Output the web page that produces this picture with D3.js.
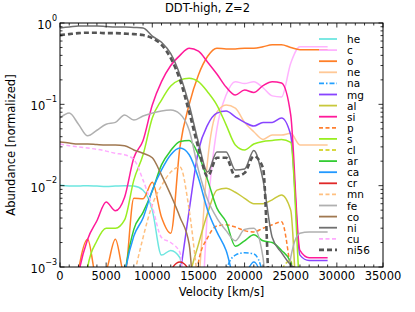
<!DOCTYPE html>
<html>
<head>
<meta charset="utf-8">
<script src="https://cdn.jsdelivr.net/npm/d3@7"></script>
<style>
body { margin: 0; background: #fff; }
text { font-family: "DejaVu Sans", sans-serif; fill: #000; }
</style>
</head>
<body>
<div id="chart"></div>
<script>
// Values; lo = below the bottom of the axis
const lo = 1e-4;
const velocity = [0, 1000, 2000, 3000, 4000, 5000, 6000, 7000, 8000, 9000,
    10000, 11000, 12000, 13000, 14000, 15000, 16000, 17000, 18000, 19000,
    20000, 21000, 22000, 23000, 24000, 25000, 26000, 27000, 28000, 29000];

const he = [0.0101, 0.0099, 0.0099, 0.01, 0.0099, 0.0098, 0.0099, 0.01, 0.0099, 0.0088,
    0.005, 0.0014, 0.0016, 0.0013, lo, lo, lo, lo, lo, lo,
    lo, lo, lo, lo, lo, lo, lo, lo, lo, lo];
const c = [lo, lo, lo, lo, lo, lo, lo, lo, lo, lo,
    lo, lo, lo, lo, lo, lo, 0.005, 0.05, 0.13, 0.19,
    0.18, 0.19, 0.16, 0.127, 0.123, 0.32, 0.51, 0.51, 0.51, 0.51];
const o = [lo, lo, 0.0009, 0.0022, 0.0007, 0.0009, 0.0022, 0.0008, 0.007, 0.0069,
    0.011, 0.0041, 0.0026, 0.03, 0.1, 0.23, 0.39, 0.49, 0.48, 0.48,
    0.49, 0.49, 0.51, 0.54, 0.54, 0.5, 0.47, 0.47, 0.47, 0.47];
const ne = [lo, lo, lo, lo, lo, lo, lo, lo, lo, lo,
    lo, lo, lo, lo, lo, 0.0006, 0.0207, 0.08, 0.098, 0.09,
    0.06, 0.046, 0.037, 0.042, 0.042, 0.044, 0.0317, 0.0317, 0.0317, 0.0317];
const na = [lo, lo, lo, lo, lo, lo, lo, lo, lo, lo,
    lo, lo, lo, lo, lo, lo, lo, lo, 0.0009, 0.0014,
    0.0015, 0.00145, 0.0008, lo, lo, lo, lo, lo, lo, lo];
const mg = [lo, lo, lo, lo, lo, lo, lo, lo, lo, lo,
    lo, lo, lo, 0.0008, 0.005, 0.027, 0.056, 0.078, 0.083, 0.07,
    0.06, 0.054, 0.06, 0.06, 0.068, 0.042, 0.0014, 0.0012, 0.0012, 0.0012];
const al = [lo, lo, lo, lo, lo, lo, lo, lo, lo, lo,
    lo, lo, lo, lo, 0.0007, 0.0019, 0.0046, 0.0088, 0.0093, 0.0083,
    0.007, 0.006, 0.006, 0.0067, 0.0077, 0.005, lo, lo, lo, lo];
const si = [lo, lo, 0.0008, 0.0022, 0.0037, 0.0063, 0.0049, 0.0072, 0.022, 0.036,
    0.098, 0.19, 0.30, 0.40, 0.49, 0.45, 0.33, 0.236, 0.163, 0.13,
    0.15, 0.14, 0.17, 0.19, 0.183, 0.074, 0.0016, 0.0013, 0.0013, 0.0013];
const p = [lo, lo, lo, lo, lo, lo, lo, lo, lo, lo,
    lo, lo, lo, lo, lo, 0.00115, 0.0023, 0.0032, 0.0033, 0.0031,
    0.0028, 0.0027, 0.003, 0.0033, 0.0036, 0.0009, lo, lo, lo, lo];
const s = [lo, lo, lo, 0.001, 0.0021, 0.003, 0.003, 0.0038, 0.0117, 0.024,
    0.068, 0.113, 0.168, 0.2, 0.21, 0.19, 0.142, 0.098, 0.056, 0.0317,
    0.0275, 0.0325, 0.035, 0.036, 0.037, 0.034, 0.0005, lo, lo, lo];
const cl = [lo, lo, lo, lo, lo, lo, lo, lo, lo, lo,
    lo, lo, lo, lo, lo, lo, lo, lo, lo, lo,
    lo, lo, lo, lo, 0.0009, 0.0012, lo, lo, lo, lo];
const ar = [lo, lo, lo, lo, lo, lo, lo, 0.0008, 0.0029, 0.0047,
    0.0086, 0.018, 0.027, 0.035, 0.036, 0.024, 0.0117, 0.0053, 0.0036, 0.0018,
    0.0021, 0.0025, 0.0021, 0.002, 0.0016, 0.00115, lo, lo, lo, lo];
const ca = [lo, lo, lo, lo, lo, lo, lo, 0.0008, 0.0024, 0.004,
    0.0088, 0.0156, 0.024, 0.029, 0.024, 0.0124, 0.005, 0.0027, 0.0016, 0.0007,
    0.0008, 0.00115, 0.0006, lo, lo, lo, lo, lo, lo, lo];
const cr = [lo, lo, lo, lo, lo, lo, lo, lo, lo, lo,
    lo, lo, 0.0009, 0.00115, 0.0009, lo, lo, lo, lo, lo,
    lo, lo, lo, lo, lo, lo, lo, lo, lo, lo];
const mn = [lo, lo, lo, lo, lo, lo, lo, lo, 0.0007, 0.0023,
    0.0058, 0.01, 0.0147, 0.017, 0.005, 0.0006, lo, lo, lo, lo,
    lo, lo, lo, lo, lo, lo, lo, lo, lo, lo];
const fe = [0.068, 0.078, 0.057, 0.041, 0.048, 0.057, 0.06, 0.074, 0.064, 0.072,
    0.078, 0.083, 0.085, 0.076, 0.048, 0.0156, 0.0067, 0.004, 0.0028, 0.0021,
    0.0029, 0.003, 0.0013, lo, lo, 0.0013, 0.0026, 0.0027, 0.0027, 0.0027];
const co = [0.0344, 0.0334, 0.0326, 0.0326, 0.032, 0.0316, 0.0316, 0.031, 0.0275, 0.025,
    0.022, 0.0135, 0.0077, 0.0041, 0.0019, lo, lo, lo, lo, lo,
    lo, lo, lo, lo, lo, lo, lo, lo, lo, lo];
const ni = [0.87, 0.89, 0.92, 0.92, 0.92, 0.905, 0.89, 0.89, 0.88, 0.87,
    0.69, 0.58, 0.42, 0.23, 0.098, 0.034, 0.0147, 0.026, 0.026, 0.0156,
    0.016, 0.027, 0.0117, 0.0023, 0.0015, 0.00106, 0.0009, lo, lo, lo];
const cu = [0.0326, 0.031, 0.03, 0.029, 0.028, 0.0266, 0.025, 0.024, 0.021, 0.0117,
    0.0055, 0.0023, 0.002, 0.0015, lo, lo, lo, lo, lo, lo,
    lo, lo, lo, lo, lo, lo, lo, lo, lo, lo];
const ni56 = [0.71, 0.73, 0.75, 0.76, 0.76, 0.75, 0.75, 0.74, 0.73, 0.71,
    0.65, 0.54, 0.37, 0.2, 0.08, 0.029, 0.013, 0.022, 0.022, 0.013,
    0.0143, 0.023, 0.0165, lo, lo, lo, lo, lo, lo, lo];

const elements = ['he', 'c', 'o', 'ne', 'na', 'mg', 'al', 'si', 'p', 's',
    'cl', 'ar', 'ca', 'cr', 'mn', 'fe', 'co', 'ni', 'cu', 'ni56'];
const seriesValues = [he, c, o, ne, na, mg, al, si, p, s,
    cl, ar, ca, cr, mn, fe, co, ni, cu, ni56];

const xTickValues = [0, 5000, 10000, 15000, 20000, 25000, 30000, 35000];
const yTickValues = [1, 0.1, 0.01, 0.001];
const yTickExponents = ['0', '\u22121', '\u22122', '\u22123'];

// Line styles per element
const styles = {
    he:   { color: '#6ee6e0' },
    c:    { color: '#ffb3ff' },
    o:    { color: '#ff7f27' },
    ne:   { color: '#ffc896' },
    na:   { color: '#22a0ff', dash: '5,2,1.5,2' },
    mg:   { color: '#8844ff' },
    al:   { color: '#c8c83c' },
    si:   { color: '#ff1a9a' },
    p:    { color: '#ff8030', dash: '4,2.5' },
    s:    { color: '#99ee22' },
    cl:   { color: '#d8d840', dash: '4,2.5' },
    ar:   { color: '#33cc33' },
    ca:   { color: '#2299ff' },
    cr:   { color: '#e02828' },
    mn:   { color: '#ffc080', dash: '4,2.5' },
    fe:   { color: '#b0b0b0' },
    co:   { color: '#a07850' },
    ni:   { color: '#707070' },
    cu:   { color: '#ffaaff', dash: '4,2.5' },
    ni56: { color: '#555555', dash: '5,3', width: 2.6 }
};

const W = 415, H = 312;
const plot = { left: 60, right: 383, top: 23, bottom: 267 };
const fontSize = 11.5;

const svg = d3.select('#chart')
    .append('svg')
    .attr('width', W)
    .attr('height', H);

const x = d3.scaleLinear()
    .domain([0, 35000])
    .range([plot.left, plot.right]);

const y = d3.scaleLog()
    .domain([1e-3, 1])
    .range([plot.bottom, plot.top]);

svg.append('clipPath')
    .attr('id', 'clip')
    .append('rect')
    .attr('x', plot.left)
    .attr('y', plot.top)
    .attr('width', plot.right - plot.left)
    .attr('height', plot.bottom - plot.top);

const line = d3.line()
    .x((d, i) => x(velocity[i]))
    .y(d => y(d))
    .curve(d3.curveMonotoneX);

// Curves
const curves = svg.append('g').attr('clip-path', 'url(#clip)');
elements.forEach((name, k) => {
    const st = styles[name];
    curves.append('path')
        .datum(seriesValues[k])
        .attr('d', line)
        .attr('fill', 'none')
        .attr('stroke', st.color)
        .attr('stroke-width', st.width || 1.5)
        .attr('stroke-dasharray', st.dash || null);
});

// Frame
svg.append('rect')
    .attr('x', plot.left)
    .attr('y', plot.top)
    .attr('width', plot.right - plot.left)
    .attr('height', plot.bottom - plot.top)
    .attr('fill', 'none')
    .attr('stroke', '#000')
    .attr('stroke-width', 1);

// Ticks pointing inward on all four sides
const ticks = svg.append('g').attr('stroke', '#000').attr('stroke-width', 0.8);
x.ticks(35).forEach(v => {
    const len = v % 5000 === 0 ? 4.5 : 2.5;
    const px = x(v);
    ticks.append('line').attr('x1', px).attr('x2', px)
        .attr('y1', plot.bottom).attr('y2', plot.bottom - len);
    ticks.append('line').attr('x1', px).attr('x2', px)
        .attr('y1', plot.top).attr('y2', plot.top + len);
});
y.ticks().forEach(v => {
    const major = Math.abs(Math.log10(v) - Math.round(Math.log10(v))) < 1e-9;
    const len = major ? 4.5 : 2.5;
    const py = y(v);
    ticks.append('line').attr('y1', py).attr('y2', py)
        .attr('x1', plot.left).attr('x2', plot.left + len);
    ticks.append('line').attr('y1', py).attr('y2', py)
        .attr('x1', plot.right).attr('x2', plot.right - len);
});

// Tick labels
svg.append('g').selectAll('text')
    .data(xTickValues)
    .enter()
    .append('text')
    .attr('x', d => x(d))
    .attr('y', plot.bottom + 13)
    .attr('text-anchor', 'middle')
    .attr('font-size', fontSize)
    .text(d => d);

const yLabels = svg.append('g').selectAll('text')
    .data(yTickValues)
    .enter()
    .append('text')
    .attr('x', plot.left - 3)
    .attr('y', d => y(d) + 6)
    .attr('text-anchor', 'end')
    .attr('font-size', fontSize);
yLabels.append('tspan').text('10');
yLabels.append('tspan')
    .attr('dy', -8.5)
    .attr('font-size', 8)
    .text((d, i) => yTickExponents[i]);

// Axis titles
svg.append('text')
    .attr('x', (plot.left + plot.right) / 2)
    .attr('y', 296)
    .attr('text-anchor', 'middle')
    .attr('font-size', fontSize)
    .text('Velocity [km/s]');

svg.append('text')
    .attr('transform', `translate(15,${(plot.top + plot.bottom) / 2}) rotate(-90)`)
    .attr('text-anchor', 'middle')
    .attr('font-size', fontSize)
    .text('Abundance [normalized]');

svg.append('text')
    .attr('x', 207.5)
    .attr('y', 12)
    .attr('text-anchor', 'middle')
    .attr('font-size', fontSize)
    .text('DDT-high, Z=2');

// Legend (no frame)
const legend = svg.append('g');
elements.forEach((name, k) => {
    const st = styles[name];
    const cy = 39 + k * 11.1;
    legend.append('line')
        .attr('x1', 319).attr('x2', 337)
        .attr('y1', cy).attr('y2', cy)
        .attr('stroke', st.color)
        .attr('stroke-width', st.width || 1.8)
        .attr('stroke-dasharray', st.dash || null);
    legend.append('text')
        .attr('x', 347)
        .attr('y', cy + 4)
        .attr('font-size', 10.5)
        .text(name);
});
</script>
</body>
</html>
